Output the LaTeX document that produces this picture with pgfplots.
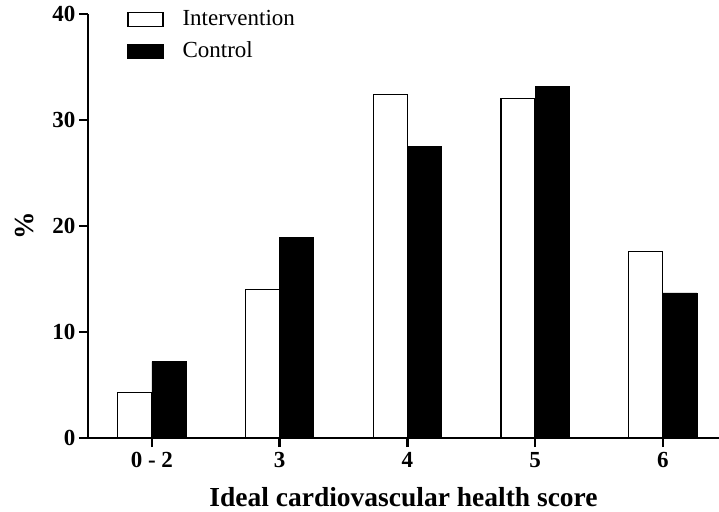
\documentclass[border=0pt]{standalone}
\usepackage{fontspec}
\setmainfont{Liberation Serif}
\usepackage{pgfplots}
\pgfplotsset{compat=1.18}
\begin{document}
\begin{tikzpicture}
\begin{axis}[
  name=ax,
  scale only axis, width=631pt, height=424pt,
  axis lines*=left,
  axis line style={line width=2.6pt},
  ymin=0, ymax=40, ytick={0,10,20,30,40},
  xmin=-0.5, xmax=4.44,
  xtick={0,1,2,3,4}, xticklabels={0 - 2,3,4,5,6},
  tick style={line width=2.6pt, black},
  tick align=outside, major tick length=9pt,
  ybar=0pt, bar width=34pt,
  ticklabel style={font=\fontsize{23}{26}\selectfont\bfseries},
  xticklabel style={yshift=-2pt},
  /pgf/number format/assume math mode=true,
  xlabel={Ideal cardiovascular health score},
  ylabel={\%},
  label style={font=\fontsize{27.5}{30}\selectfont\bfseries},
  xlabel style={at={(axis description cs:0.5,-0.139)}, anchor=center},
  ylabel style={at={(axis description cs:-0.101,0.5)}, anchor=center},
  legend style={at={(axis description cs:0.062,1.012)}, anchor=north west, draw=none, fill=none,
    inner sep=0pt, row sep=11pt, font=\fontsize{23}{26}\selectfont,
    nodes={inner sep=0pt, text height=16pt, text depth=5pt},
    /tikz/every odd column/.append style={column sep=19pt},
    legend cell align=left},
  legend image code/.code={\draw[#1, line width=1.2pt] (0pt,-7pt) rectangle (35pt,7pt);},
]
\addplot[draw=black, fill=white, line width=1.2pt] coordinates {(0,4.3) (1,14.0) (2,32.4) (3,32.0) (4,17.6)};
\addplot[draw=black, fill=black] coordinates {(0,7.2) (1,18.9) (2,27.5) (3,33.2) (4,13.7)};
\legend{Intervention, Control}
\end{axis}
\pgfresetboundingbox
\path (ax.south west) ++(-88pt,-73pt) rectangle ++(719pt,511pt);
\end{tikzpicture}
\end{document}
